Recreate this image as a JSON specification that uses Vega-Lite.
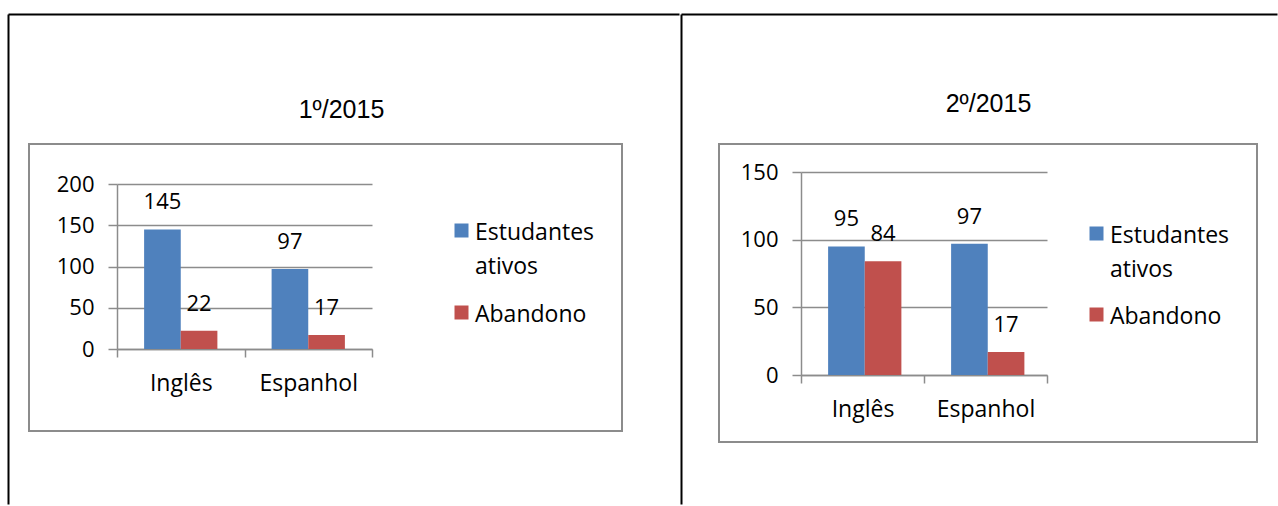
{
  "$schema": "https://vega.github.io/schema/vega-lite/v6.json",
  "padding": {"left": 4, "top": 13, "right": 0, "bottom": 0},
  "background": "white",
  "datasets": {
    "s1": [
      {"lingua": "Inglês", "serie": "Estudantes ativos", "valor": 145},
      {"lingua": "Inglês", "serie": "Abandono", "valor": 22},
      {"lingua": "Espanhol", "serie": "Estudantes ativos", "valor": 97},
      {"lingua": "Espanhol", "serie": "Abandono", "valor": 17}
    ],
    "s2": [
      {"lingua": "Inglês", "serie": "Estudantes ativos", "valor": 95},
      {"lingua": "Inglês", "serie": "Abandono", "valor": 84},
      {"lingua": "Espanhol", "serie": "Estudantes ativos", "valor": 97},
      {"lingua": "Espanhol", "serie": "Abandono", "valor": 17}
    ]
  },
  "spacing": -24,
  "hconcat": [
    {
      "width": 593,
      "height": 287,
      "data": {"name": "s1"},
      "layer": [
        {
          "mark": {"type": "point", "opacity": 0},
          "encoding": {
            "x": {"datum": 0, "type": "quantitative", "scale": {"domain": [0, 1], "range": [-21, 650]},
              "axis": {"orient": "top", "offset": 130, "grid": false, "ticks": false, "labels": false, "domain": true, "domainColor": "#000000", "domainWidth": 2,
                "title": "1º/2015", "titleFont": "Liberation Sans", "titleFontSize": 25, "titleFontWeight": "normal", "titleColor": "#000000",
                "titleX": 312, "titleY": 95, "titleAlign": "center", "titleBaseline": "middle", "titleAngle": 0}},
            "y": {"datum": 0, "type": "quantitative", "scale": {"domain": [0, 1], "range": [360, -130]},
              "axis": {"orient": "left", "offset": 21, "grid": false, "ticks": false, "labels": false, "domain": true, "domainColor": "#000000", "domainWidth": 2, "title": null}}
          }
        },
        {
          "encoding": {
            "x": {"field": "lingua", "type": "nominal", "sort": ["Inglês", "Espanhol"],
              "scale": {"range": [88, 343], "paddingInner": 0, "paddingOuter": 0},
              "axis": {"orient": "bottom", "offset": -82, "title": null, "tickBand": "extent", "tickSize": 8, "labelPadding": 15, "labelAngle": 0, "labelFontSize": 23, "grid": false}},
            "xOffset": {"field": "serie", "type": "nominal", "sort": ["Estudantes ativos", "Abandono"], "scale": {"paddingInner": 0, "paddingOuter": 0.74}},
            "y": {"field": "valor", "type": "quantitative", "scale": {"domain": [0, 200], "range": [205, 40]},
              "axis": {"orient": "left", "offset": -88, "values": [0, 50, 100, 150, 200], "title": null, "grid": true, "tickSize": 9, "labelPadding": 14}}
          },
          "layer": [
            {
              "mark": {"type": "bar"},
              "encoding": {
                "color": {"field": "serie", "type": "nominal", "sort": ["Estudantes ativos", "Abandono"],
                  "scale": {"domain": ["Estudantes ativos", "Abandono"], "range": ["#4F81BD", "#C0504D"]},
                  "legend": {"orient": "none", "legendX": 421, "legendY": 75, "title": null, "symbolType": "square", "symbolSize": 196, "symbolStrokeWidth": 0,
                    "labelFont": "Open Sans", "labelFontSize": 23, "labelColor": "#000000", "labelOffset": 2, "labelBaseline": "top", "labelLimit": 200, "rowPadding": 22, "padding": 0,
                    "labelExpr": "datum.label == 'Estudantes ativos' ? ['Estudantes', 'ativos'] : datum.label",
                    "encode": {"labels": {"update": {"lineHeight": {"value": 34}, "dy": {"value": -9}}}}}
                }
              }
            },
            {
              "mark": {"type": "text", "baseline": "middle", "dy": -27, "font": "Open Sans", "fontSize": 22, "color": "#000000"},
              "encoding": {"text": {"field": "valor", "type": "quantitative"}}
            }
          ]
        }
      ],
      "resolve": {"scale": {"x": "independent", "y": "independent"}, "axis": {"x": "independent", "y": "independent"}}
    },
    {
      "width": 538,
      "height": 298,
      "data": {"name": "s2"},
      "layer": [
        {
          "mark": {"type": "point", "opacity": 0},
          "encoding": {
            "x": {"datum": 0, "type": "quantitative", "scale": {"domain": [0, 1], "range": [-38, 558]},
              "axis": {"orient": "top", "offset": 130, "grid": false, "ticks": false, "labels": false, "domain": true, "domainColor": "#000000", "domainWidth": 2,
                "title": "2º/2015", "titleFont": "Liberation Sans", "titleFontSize": 25, "titleFontWeight": "normal", "titleColor": "#000000",
                "titleX": 269, "titleY": 89, "titleAlign": "center", "titleBaseline": "middle", "titleAngle": 0}},
            "y": {"datum": 0, "type": "quantitative", "scale": {"domain": [0, 1], "range": [360, -130]},
              "axis": {"orient": "left", "offset": 38, "grid": false, "ticks": false, "labels": false, "domain": true, "domainColor": "#000000", "domainWidth": 2, "title": null}}
          }
        },
        {
          "encoding": {
            "x": {"field": "lingua", "type": "nominal", "sort": ["Inglês", "Espanhol"],
              "scale": {"range": [82, 328], "paddingInner": 0, "paddingOuter": 0},
              "axis": {"orient": "bottom", "offset": -67, "title": null, "tickBand": "extent", "tickSize": 8, "labelPadding": 15, "labelAngle": 0, "labelFontSize": 23, "grid": false}},
            "xOffset": {"field": "serie", "type": "nominal", "sort": ["Estudantes ativos", "Abandono"], "scale": {"paddingInner": 0, "paddingOuter": 0.74}},
            "y": {"field": "valor", "type": "quantitative", "scale": {"domain": [0, 150], "range": [231, 28]},
              "axis": {"orient": "left", "offset": -82, "values": [0, 50, 100, 150], "title": null, "grid": true, "tickSize": 9, "labelPadding": 14}}
          },
          "layer": [
            {
              "mark": {"type": "bar"},
              "encoding": {
                "color": {"field": "serie", "type": "nominal", "sort": ["Estudantes ativos", "Abandono"],
                  "scale": {"domain": ["Estudantes ativos", "Abandono"], "range": ["#4F81BD", "#C0504D"]},
                  "legend": {"orient": "none", "legendX": 366, "legendY": 78, "title": null, "symbolType": "square", "symbolSize": 196, "symbolStrokeWidth": 0,
                    "labelFont": "Open Sans", "labelFontSize": 23, "labelColor": "#000000", "labelOffset": 2, "labelBaseline": "top", "labelLimit": 200, "rowPadding": 21, "padding": 0,
                    "labelExpr": "datum.label == 'Estudantes ativos' ? ['Estudantes', 'ativos'] : datum.label",
                    "encode": {"labels": {"update": {"lineHeight": {"value": 34}, "dy": {"value": -9}}}}}
                }
              }
            },
            {
              "mark": {"type": "text", "baseline": "middle", "dy": -27, "font": "Open Sans", "fontSize": 22, "color": "#000000"},
              "encoding": {"text": {"field": "valor", "type": "quantitative"}}
            }
          ]
        }
      ],
      "resolve": {"scale": {"x": "independent", "y": "independent"}, "axis": {"x": "independent", "y": "independent"}}
    }
  ],
  "resolve": {"scale": {"color": "independent"}, "legend": {"color": "independent"}},
  "config": {
    "concat": {"spacing": -24},
    "view": {"stroke": "#8c8c8c", "strokeWidth": 2},
    "axis": {"labelFont": "Open Sans", "labelFontSize": 22, "labelColor": "#000000", "domainColor": "#8c8c8c", "tickColor": "#8c8c8c", "gridColor": "#8c8c8c", "domainWidth": 1.5, "tickWidth": 1.5, "gridWidth": 1.5, "gridOpacity": 1}
  }
}
